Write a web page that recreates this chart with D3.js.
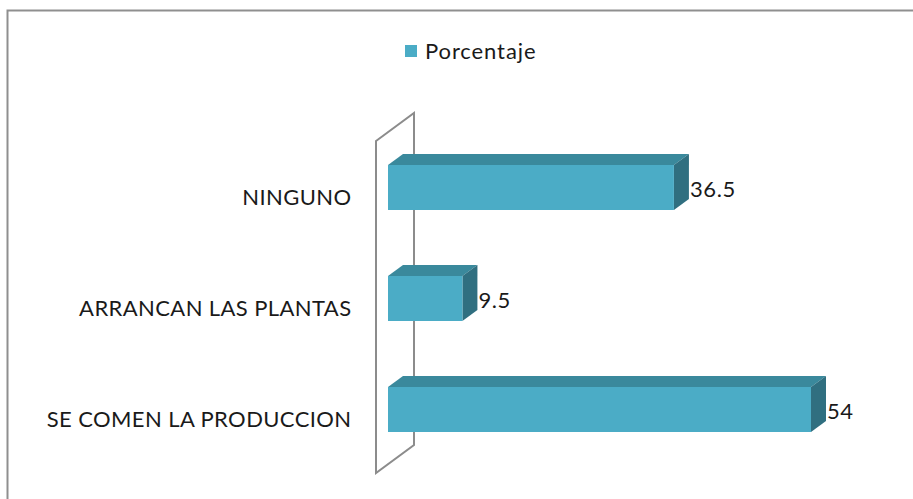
<!DOCTYPE html>
<html>
<head>
<meta charset="utf-8">
<script src="https://cdn.jsdelivr.net/npm/d3@7"></script>
<style>
  body { margin: 0; background: #fff; }
  text { font-family: Lato, "Open Sans", sans-serif; fill: #1a1a1a; }
</style>
</head>
<body>
<script>
var categories = ["NINGUNO", "ARRANCAN LAS PLANTAS", "SE COMEN LA PRODUCCION"];
var values = [36.5, 9.5, 54];
var seriesName = "Porcentaje";

var width = 913,
    height = 499;

var svg = d3.select("body")
            .append("svg")
            .attr("width", width)
            .attr("height", height);

// outer frame of the chart area
svg.append("rect")
   .attr("x", 7.5).attr("y", 10.5)
   .attr("width", 1000).attr("height", 1000)
   .attr("fill", "none")
   .attr("stroke", "#8f8f8f")
   .attr("stroke-width", 2);

var x = d3.scaleLinear().domain([0, 60]).range([388, 858]),
    y = d3.scalePoint().domain(categories).range([187.5, 409.5]);

var barH = 45,
    dx = 15, dy = -11;   // bar depth offset

// 3d side wall
var wall = {x0: 376, y0: 141, y1: 473, dx: 38, dy: -28};
svg.append("path")
   .attr("d", "M" + wall.x0 + "," + wall.y0 +
              "L" + (wall.x0 + wall.dx) + "," + (wall.y0 + wall.dy) +
              "L" + (wall.x0 + wall.dx) + "," + (wall.y1 + wall.dy) +
              "L" + wall.x0 + "," + wall.y1 + "Z")
   .attr("fill", "none")
   .attr("stroke", "#8c8c8c")
   .attr("stroke-width", 2);

var data = categories.map(function(c, i){ return {cat: c, val: values[i]}; });

var bars = svg.selectAll(".bar")
              .data(data)
              .enter().append("g")
              .attr("class", "bar");

// top face
bars.append("path")
    .attr("fill", "#3a899c")
    .attr("d", function(d){
      var x0 = x(0), x1 = x(d.val), t = y(d.cat) - barH/2;
      return "M" + x0 + "," + t + "L" + (x0+dx) + "," + (t+dy) +
             "L" + (x1+dx) + "," + (t+dy) + "L" + x1 + "," + t + "Z";
    });

// side face
bars.append("path")
    .attr("fill", "#306f80")
    .attr("d", function(d){
      var x1 = x(d.val), t = y(d.cat) - barH/2, b = t + barH;
      return "M" + x1 + "," + t + "L" + (x1+dx) + "," + (t+dy) +
             "L" + (x1+dx) + "," + (b+dy) + "L" + x1 + "," + b + "Z";
    });

// front face
bars.append("rect")
    .attr("fill", "#4bacc6")
    .attr("x", x(0))
    .attr("y", function(d){ return y(d.cat) - barH/2; })
    .attr("width", function(d){ return x(d.val) - x(0); })
    .attr("height", barH);

// value labels
bars.append("text")
    .attr("x", function(d){ return x(d.val) + dx + 1; })
    .attr("y", function(d){ return y(d.cat) + 2; })
    .attr("dy", "0.36em")
    .style("font-size", "22px")
    .style("letter-spacing", "0.6px")
    .text(function(d){ return d.val; });

// category labels
svg.selectAll(".cat")
   .data(categories)
   .enter().append("text")
   .attr("class", "cat")
   .attr("x", 351.5)
   .attr("y", function(d){ return y(d) + 10; })
   .attr("dy", "0.36em")
   .attr("text-anchor", "end")
   .style("font-size", "22px")
   .style("letter-spacing", "0.4px")
   .text(function(d){ return d; });

// legend
svg.append("rect")
   .attr("x", 405).attr("y", 45)
   .attr("width", 12).attr("height", 12)
   .attr("fill", "#4bacc6");
svg.append("text")
   .attr("x", 425).attr("y", 51)
   .attr("dy", "0.36em")
   .style("font-size", "22px")
   .style("letter-spacing", "0.9px")
   .text(seriesName);
</script>
</body>
</html>
